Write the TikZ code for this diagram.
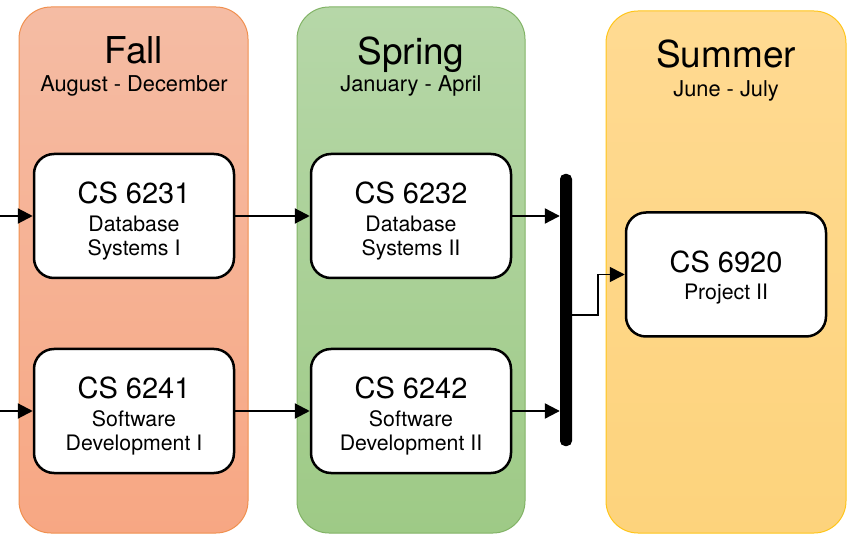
\documentclass[tikz,border=0pt]{standalone}
\usepackage{fontspec}
\setmainfont{TeX Gyre Heros}
\usepackage{xcolor}
\usepackage{tikz}
\usetikzlibrary{arrows.meta}

\definecolor{fallTop}{HTML}{F5BCA4}
\definecolor{fallBot}{HTML}{F7A783}
\definecolor{fallLine}{HTML}{F0904F}
\definecolor{springTop}{HTML}{B6D7A8}
\definecolor{springBot}{HTML}{9ECA86}
\definecolor{springLine}{HTML}{82B366}
\definecolor{summerTop}{HTML}{FFDA92}
\definecolor{summerBot}{HTML}{FDD37C}
\definecolor{summerLine}{HTML}{FFC51A}

\newcommand{\coursecode}[2][32pt]{{\fontsize{29}{29}\selectfont\rule{0pt}{#1}#2}}

\begin{document}
\begin{tikzpicture}[x=1pt,y=-1pt,
        season/.style={rounded corners=32pt,line width=1pt,inner sep=0pt},
        course/.style={draw,fill=white,line width=2.5pt,rounded corners=20pt,minimum width=200pt,minimum height=124pt,align=center,inner sep=0pt,font=\fontsize{21.3}{24}\selectfont},
        title/.style={anchor=base,font=\fontsize{37}{37}\selectfont},
        months/.style={anchor=base,font=\fontsize{21.8}{21.8}\selectfont},
        arr/.style={line width=2.2pt,-{Triangle[length=15pt,width=15pt]}}]
                \useasboundingbox (0,0) rectangle (854,534);
                % columns
                \node[season,draw=fallLine,top color=fallTop,bottom color=fallBot,minimum width=229pt,minimum height=526pt] (fall) at (133.5,270) {};
                \node[season,draw=springLine,top color=springTop,bottom color=springBot,minimum width=228pt,minimum height=526pt] (spring) at (411,270) {};
                \node[season,draw=summerLine,top color=summerTop,bottom color=summerBot,minimum width=240pt,minimum height=522pt] (summer) at (726,272) {};
                \node[title] (fallT) at (134,64) {Fall};
                \node[months] (fallM) at (134,92) {August - December};
                \node[title] (springT) at (411,65) {Spring};
                \node[months] (springM) at (411,92) {January - April};
                \node[title] (summerT) at (726,68) {Summer};
                \node[months] (summerM) at (726,97) {June - July};
                % courses
                \node[course] (db1) at (134,216) {\coursecode{CS 6231}\\[4pt]Database\\Systems I};
                \node[course] (sw1) at (134,411) {\coursecode{CS 6241}\\[4pt]Software\\Development I};
                \node[course] (db2) at (411,216) {\coursecode{CS 6232}\\[4pt]Database\\Systems II};
                \node[course] (sw2) at (411,411) {\coursecode{CS 6242}\\[4pt]Software\\Development II};
                \node[course] (prj) at (726,274.5) {\coursecode[28pt]{CS 6920}\\[3pt]Project II};
                \node[fill=black,rounded corners=5pt,minimum width=12pt,minimum height=272pt,inner sep=0pt] (bar) at (566,310) {};
                \coordinate (in1) at (0,216);
                \coordinate (in2) at (0,411);
                % arrows
                \draw[arr] (in1) -- (db1.west);
                \draw[arr] (in2) -- (sw1.west);
                \draw[arr] (db1) -- (db2);
                \draw[arr] (sw1) -- (sw2);
                \draw[arr] (db2) -- (db2 -| bar.west);
                \draw[arr] (sw2) -- (sw2 -| bar.west);
                \draw[arr,line width=1.6pt] ([yshift=-5pt]bar.east) -- ++(26,0) |- (prj.west);
            \end{tikzpicture}
\end{document}
